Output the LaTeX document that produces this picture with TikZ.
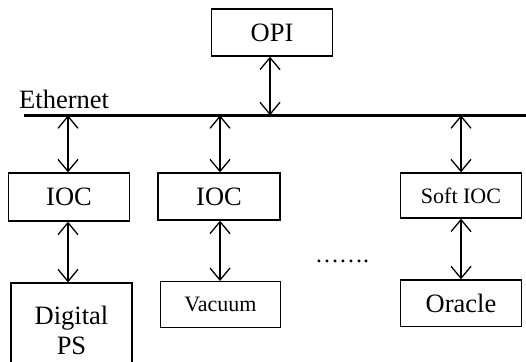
\documentclass[tikz,border=0pt]{standalone}
\usepackage{fontspec}
\setmainfont{Liberation Serif}
\usetikzlibrary{arrows.meta}
\tikzset{
  box/.style={draw, line width=1.3pt, inner sep=0pt, font=\fontsize{26.5}{27}\selectfont},
  smallbox/.style={box, font=\fontsize{22}{24}\selectfont},
  link/.style={line width=1.3pt, {Straight Barb[length=12pt,width=20pt,line width=1.3pt]}-{Straight Barb[length=12pt,width=20pt,line width=1.3pt]}},
  bus/.style={line width=3pt}
}
\begin{document}
\begin{tikzpicture}[x=1pt,y=-1pt]
\useasboundingbox (0,0) rectangle (526,361);
% boxes
\node[box, minimum width=121pt, minimum height=47pt] (opi) at (272,32.5) {OPI};
\node[box, minimum width=121pt, minimum height=48pt] (ioc1) at (69,197) {IOC};
\node[box, minimum width=122pt, minimum height=47pt] (ioc2) at (219,196.5) {IOC};
\node[smallbox, minimum width=121pt, minimum height=45pt] (soft) at (461,195.5) {Soft IOC};
\node[box, minimum width=121pt, minimum height=94pt, align=center] (dps) at (71.5,330) {Digital\\[3pt]PS};
\node[smallbox, minimum width=120pt, minimum height=46pt] (vac) at (220.5,304.7) {Vacuum};
\node[box, minimum width=121pt, minimum height=46.7pt] (ora) at (461,303.3) {Oracle};
% ethernet bus
\coordinate (ethL) at (24,115.3);
\coordinate (ethR) at (526,115.3);
\draw[bus] (ethL) -- (ethR);
\node[font=\fontsize{26.5}{28}\selectfont, anchor=base west, inner sep=0pt] (ethlabel) at (19,108) {Ethernet};
% dots
\node[font=\fontsize{24}{26}\selectfont, inner sep=0pt, anchor=base] (dots) at (342,262) {…….};
% connectors
\draw[link] ([xshift=-2pt]opi.south) -- ([xshift=-2pt]opi.south |- ethL);
\draw[link] ([xshift=-1pt]ioc1.north |- ethL) -- ([xshift=-1pt]ioc1.north);
\draw[link] ([xshift=1pt]ioc2.north |- ethL) -- ([xshift=1pt]ioc2.north);
\draw[link] (soft.north |- ethL) -- (soft.north);
\draw[link] ([xshift=-1pt]ioc1.south) -- ([xshift=-1pt]ioc1.south |- dps.north);
\draw[link] ([xshift=1pt]ioc2.south) -- ([xshift=1pt]ioc2.south |- vac.north);
\draw[link] (soft.south) -- (soft.south |- ora.north);
\end{tikzpicture}
\end{document}
